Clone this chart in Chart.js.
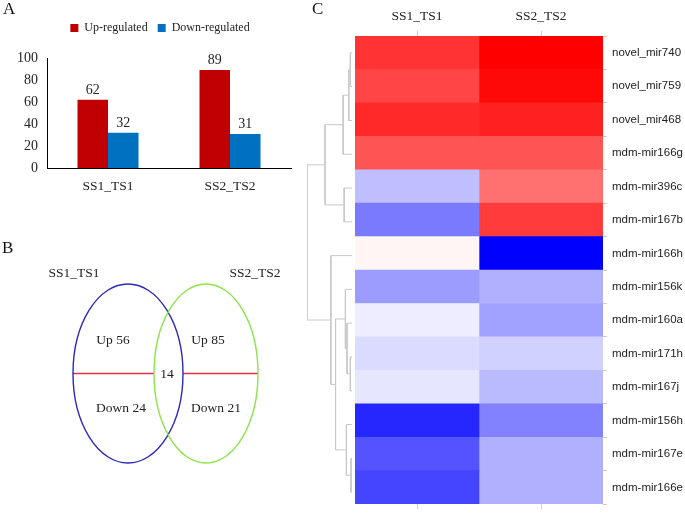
<!DOCTYPE html>
<html lang="en">
<head>
<meta charset="UTF-8">
<title>miRNA expression</title>
<script src="https://cdn.jsdelivr.net/npm/chart.js"></script>
<style>
  body { margin: 0; background: #fff; }
  .wrap { position: relative; width: 685px; height: 516px; overflow: hidden; }
  canvas { position: absolute; }
  .tag { position: absolute; font: 17px "Liberation Serif", serif; line-height: 17px; color: #111; z-index: 5; }
</style>
</head>
<body>
<div class="wrap">
  <canvas id="barChart" width="320" height="200" style="left:0;top:0"></canvas>
  <canvas id="vennChart" width="320" height="300" style="left:0;top:200px"></canvas>
  <canvas id="treeChart" width="55" height="516" style="left:300px;top:0"></canvas>
  <canvas id="heatChart" width="345" height="516" style="left:340px;top:0"></canvas>
  <div class="tag" style="left:3px;top:0">A</div>
  <div class="tag" style="left:2px;top:239px">B</div>
  <div class="tag" style="left:312px;top:0">C</div>
</div>
<script>
// panel A
const groups = ['SS1_TS1', 'SS2_TS2'];
const upRegulated = [62, 89];
const downRegulated = [32, 31];
const yTicks = [0, 20, 40, 60, 80, 100];

// panel B
const vennNames = ['SS1_TS1', 'SS2_TS2'];
const vennUp = [56, 85];
const vennDown = [24, 21];
const vennShared = 14;

// panel C
const sampleNames = ['SS1_TS1', 'SS2_TS2'];
const mirnas = ['novel_mir740', 'novel_mir759', 'novel_mir468', 'mdm-mir166g', 'mdm-mir396c',
  'mdm-mir167b', 'mdm-mir166h', 'mdm-mir156k', 'mdm-mir160a', 'mdm-mir171h', 'mdm-mir167j',
  'mdm-mir156h', 'mdm-mir167e', 'mdm-mir166e'];
const ss1Values = [0.80, 0.73, 0.84, 0.67, -0.25, -0.52, 0.04, -0.39, -0.07, -0.14, -0.10, -0.85, -0.67, -0.73];
const ss2Values = [1.00, 0.97, 0.87, 0.67, 0.56, 0.77, -1.00, -0.31, -0.37, -0.18, -0.27, -0.49, -0.31, -0.31];
// row dendrogram: [childA, childB, height], leaves 0..13, new nodes from 14
const merges = [
  [0, 1, 0.037], [14, 2, 0.072], [15, 3, 0.197], [4, 5, 0.175], [16, 17, 0.60],
  [9, 10, 0.037], [8, 19, 0.11], [7, 20, 0.147], [12, 13, 0.022], [11, 22, 0.125],
  [21, 23, 0.365], [6, 24, 0.47], [18, 25, 1.0]
];

const SERIF = '"Liberation Serif", "Times New Roman", serif';
const SANS = '"Liberation Sans", Arial, sans-serif';

// extra room under the legend, and centre it over the plot
const legendGap = {
  id: 'legendGap',
  beforeInit(chart) {
    const fit = chart.legend.fit;
    chart.legend.fit = function () { fit.call(this); this.height += 14; };
  },
  afterLayout(chart) {
    chart.legend.left = 29;
  }
};

// numbers above bars
const barValues = {
  id: 'barValues',
  afterDatasetsDraw(chart) {
    const ctx = chart.ctx;
    ctx.save();
    ctx.font = '14px ' + SERIF;
    ctx.fillStyle = '#222';
    ctx.textAlign = 'center';
    ctx.textBaseline = 'alphabetic';
    chart.data.datasets.forEach((ds, i) => {
      chart.getDatasetMeta(i).data.forEach((bar, j) => {
        ctx.fillText(ds.data[j], bar.x, bar.y - 6);
      });
    });
    ctx.restore();
  }
};

new Chart(document.getElementById('barChart'), {
  type: 'bar',
  data: {
    labels: groups,
    datasets: [
      { label: 'Up-regulated', data: upRegulated, backgroundColor: '#C00000' },
      { label: 'Down-regulated', data: downRegulated, backgroundColor: '#0070C0' }
    ]
  },
  options: {
    responsive: false,
    animation: false,
    layout: { padding: { left: 0, right: 29, top: 12, bottom: 0 } },
    datasets: { bar: { categoryPercentage: 0.5, barPercentage: 1.0 } },
    scales: {
      x: {
        grid: { display: false, drawTicks: false },
        border: { color: '#000' },
        ticks: { font: { family: SERIF, size: 13.5 }, color: '#222', padding: 10 },
        afterFit: s => { s.height = 32; }
      },
      y: {
        min: 0, max: 100,
        afterBuildTicks: s => { s.ticks = yTicks.map(v => ({ value: v })); },
        grid: { display: false, drawTicks: false },
        border: { color: '#000' },
        ticks: { font: { family: SERIF, size: 14 }, color: '#222', padding: 9 },
        afterFit: s => { s.width = 47; }
      }
    },
    plugins: {
      legend: {
        labels: { boxWidth: 8, boxHeight: 8, padding: 10, color: '#222', font: { family: SERIF, size: 12 } }
      },
      tooltip: { enabled: false }
    }
  },
  plugins: [legendGap, barValues]
});

// Venn: two ellipses split into up / down halves
const vennDraw = {
  id: 'vennDraw',
  afterDraw(chart) {
    const ctx = chart.ctx;
    const sx = chart.scales.x, sy = chart.scales.y;
    const px = v => sx.getPixelForValue(v), py = v => sy.getPixelForValue(v);
    const sets = [
      { cx: 128, cy: 173.5, rx: 55, ry: 89.5, color: '#2B2BB5' },
      { cx: 206, cy: 173.5, rx: 52, ry: 89.5, color: '#8CE34A' }
    ];
    ctx.save();
    ctx.lineWidth = 1.4;
    // red split lines
    ctx.strokeStyle = '#E8304A';
    ctx.beginPath();
    ctx.moveTo(px(sets[0].cx - sets[0].rx), py(sets[0].cy));
    ctx.lineTo(px(sets[1].cx - sets[1].rx), py(sets[0].cy));
    ctx.moveTo(px(sets[0].cx + sets[0].rx), py(sets[0].cy));
    ctx.lineTo(px(sets[1].cx + sets[1].rx), py(sets[0].cy));
    ctx.stroke();
    sets.forEach(s => {
      ctx.strokeStyle = s.color;
      ctx.beginPath();
      ctx.ellipse(px(s.cx), py(s.cy), Math.abs(px(s.cx + s.rx) - px(s.cx)),
        Math.abs(py(s.cy + s.ry) - py(s.cy)), 0, 0, Math.PI * 2);
      ctx.stroke();
    });
    ctx.font = '13.5px ' + SERIF;
    ctx.fillStyle = '#222';
    ctx.textAlign = 'center';
    ctx.textBaseline = 'middle';
    const cy = sets[0].cy;
    ctx.fillText(vennNames[0], px(74), py(73));
    ctx.fillText(vennNames[1], px(255), py(73));
    ctx.fillText('Up ' + vennUp[0], px(113), py(cy - 33));
    ctx.fillText('Up ' + vennUp[1], px(208), py(cy - 33));
    ctx.fillText('Down ' + vennDown[0], px(121), py(cy + 35));
    ctx.fillText('Down ' + vennDown[1], px(216), py(cy + 35));
    ctx.fillStyle = '#fff';
    ctx.fillRect(px(167) - 8, py(cy) - 7, 16, 14);
    ctx.fillStyle = '#222';
    ctx.fillText(String(vennShared), px(167), py(cy + 0.5));
    ctx.restore();
  }
};

new Chart(document.getElementById('vennChart'), {
  type: 'scatter',
  data: { datasets: [] },
  options: {
    responsive: false,
    animation: false,
    layout: { padding: 0 },
    scales: {
      x: { min: 0, max: 320, display: false },
      y: { min: 0, max: 300, reverse: true, display: false }
    },
    plugins: { legend: { display: false }, tooltip: { enabled: false } }
  },
  plugins: [vennDraw]
});

// dendrogram links as line datasets
const nodeY = mirnas.map((m, i) => i + 1);
const nodeH = mirnas.map(() => 0);
const treeSets = merges.map(([a, b, h]) => {
  nodeY.push((nodeY[a] + nodeY[b]) / 2);
  nodeH.push(h);
  return {
    data: [
      { x: nodeH[a], y: nodeY[a] }, { x: h, y: nodeY[a] },
      { x: h, y: nodeY[b] }, { x: nodeH[b], y: nodeY[b] }
    ],
    showLine: true,
    borderColor: '#c8c8c8',
    borderWidth: 1,
    pointRadius: 0,
    tension: 0
  };
});

new Chart(document.getElementById('treeChart'), {
  type: 'scatter',
  data: { datasets: treeSets },
  options: {
    responsive: false,
    animation: false,
    layout: { padding: { left: 7, right: 3, top: 36, bottom: 7 } },
    scales: {
      x: { min: 0, max: 1, reverse: true, display: false },
      y: { min: 0.5, max: 14.5, reverse: true, display: false }
    },
    plugins: { legend: { display: false }, tooltip: { enabled: false } }
  }
});

// heatmap: red = up, blue = down
function toColor(v) {
  const k = Math.round(255 * (1 - Math.min(1, Math.abs(v))));
  return v >= 0 ? `rgb(255,${k},${k})` : `rgb(${k},${k},255)`;
}

const colTicks = s => { s.ticks = [{ value: 0.5 }, { value: 1.5 }]; };

new Chart(document.getElementById('heatChart'), {
  type: 'bar',
  data: {
    labels: mirnas,
    datasets: [
      { data: mirnas.map(() => [0, 1]), backgroundColor: ss1Values.map(toColor) },
      { data: mirnas.map(() => [1, 2]), backgroundColor: ss2Values.map(toColor) }
    ]
  },
  options: {
    indexAxis: 'y',
    responsive: false,
    animation: false,
    layout: { padding: { left: 15, right: 0, top: 0, bottom: 0 } },
    datasets: { bar: { grouped: false, barPercentage: 1, categoryPercentage: 1, borderWidth: 0 } },
    scales: {
      x: {
        type: 'linear', position: 'top', min: 0, max: 2,
        afterBuildTicks: colTicks,
        ticks: { callback: (v, i) => sampleNames[i], font: { family: SERIF, size: 13.5 }, color: '#222', padding: 6, maxRotation: 0 },
        grid: { drawOnChartArea: false, tickLength: 5, color: '#ccc' },
        border: { display: false },
        afterFit: s => { s.height = 36; }
      },
      xb: {
        type: 'linear', position: 'bottom', min: 0, max: 2,
        afterBuildTicks: colTicks,
        ticks: { display: false },
        grid: { drawOnChartArea: false, tickLength: 5, color: '#ccc' },
        border: { display: false },
        afterFit: s => { s.height = 7; }
      },
      y: {
        position: 'right',
        grid: { drawOnChartArea: false, tickLength: 4, color: '#ccc' },
        border: { display: false },
        ticks: { font: { family: SANS, size: 11.5 }, color: '#222', padding: 5 },
        afterFit: s => { s.width = 82; }
      }
    },
    plugins: { legend: { display: false }, tooltip: { enabled: false } }
  }
});
</script>
</body>
</html>
